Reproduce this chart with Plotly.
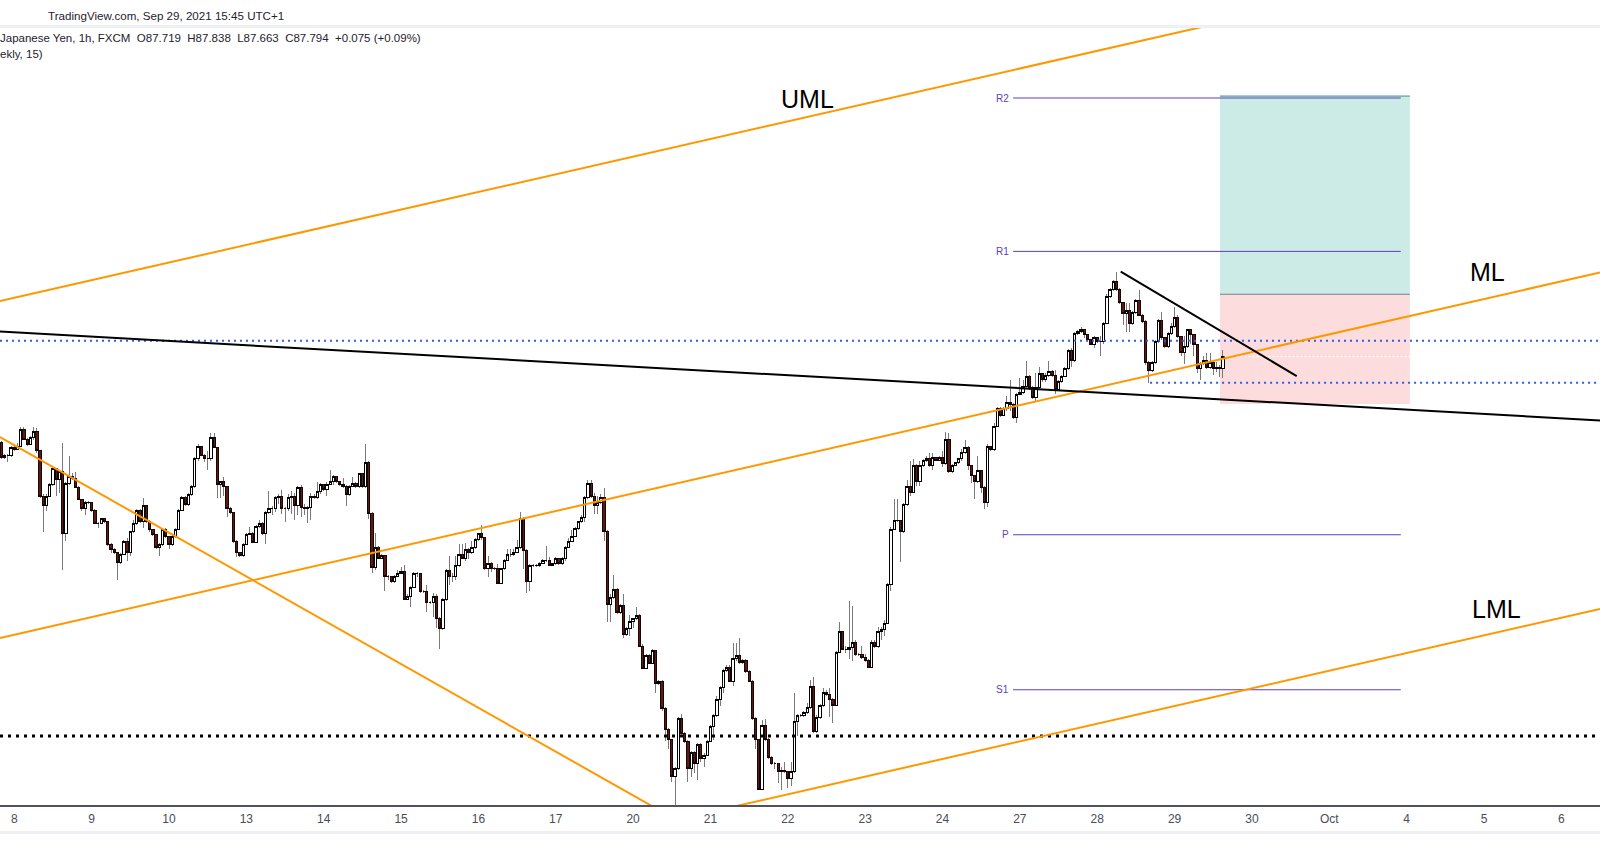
import plotly.graph_objects as go

# ---------------- data (hourly candles, index 0 = Sep 8 00:00, UTC+1) ----------------
hour_index = list(range(-4, 376))
first_open = 87.26

close = [
    # Sep 7 late / Sep 8 / Sep 9 / Sep 10 (part)
    87.17, 87.18, 87.18, 87.23, 87.22, 87.24, 87.34, 87.28, 87.25, 87.29, 87.33, 87.21,
    86.93, 86.87, 86.93, 87.00, 87.10, 87.03, 87.08, 86.70, 87.01, 87.05, 87.04, 86.98,
    86.91, 86.85, 86.89, 86.89, 86.84, 86.76, 86.76, 86.79, 86.77, 86.63, 86.60, 86.58,
    86.52, 86.57, 86.65, 86.58, 86.71, 86.76, 86.84, 86.77, 86.87, 86.77, 86.72, 86.69,
    86.61, 86.63, 86.72, 86.68, 86.63, 86.68, 86.72, 86.84, 86.92, 86.88, 86.94, 86.99,
    87.16, 87.24,
    # i = 58 .. 132
    87.18, 87.16, 87.16, 87.29, 87.23, 87.00, 87.02, 86.99, 86.85, 86.83, 86.65, 86.58,
    86.56, 86.63, 86.69, 86.70, 86.64, 86.74, 86.76, 86.70, 86.83, 86.85, 86.85, 86.92,
    86.93, 86.85, 86.85, 86.92, 86.93, 86.87, 86.98, 86.86, 86.85, 86.86, 86.93, 86.92,
    86.96, 87.00, 86.97, 87.00, 87.02, 87.05, 87.02, 87.00, 86.99, 86.94, 86.99, 87.01,
    86.99, 87.07, 86.99, 87.14, 86.82, 86.49, 86.61, 86.54, 86.56, 86.43, 86.43, 86.40,
    86.43, 86.45, 86.46, 86.29, 86.31, 86.36, 86.45, 86.45, 86.34, 86.34, 86.27, 86.27,
    86.31, 86.17, 86.11,
    # i = 133 .. 209
    86.29, 86.47, 86.43, 86.43, 86.50, 86.57, 86.54, 86.60, 86.58, 86.61, 86.66, 86.70,
    86.67, 86.48, 86.51, 86.48, 86.48, 86.39, 86.48, 86.53, 86.57, 86.57, 86.58, 86.61,
    86.79, 86.59, 86.40, 86.50, 86.50, 86.50, 86.51, 86.53, 86.53, 86.50, 86.51, 86.54,
    86.51, 86.54, 86.61, 86.65, 86.68, 86.73, 86.77, 86.80, 86.92, 87.01, 86.93, 86.87,
    86.89, 86.92, 86.71, 86.26, 86.30, 86.35, 86.21, 86.25, 86.07, 86.11, 86.15, 86.17,
    86.19, 86.00, 85.86, 85.94, 85.89, 85.97, 85.77, 85.78, 85.61, 85.48, 85.42, 85.19,
    85.24, 85.55, 85.46, 85.41, 85.24,
    # i = 210 .. 285
    85.34, 85.27, 85.39, 85.30, 85.32, 85.41, 85.50, 85.57, 85.67, 85.74, 85.85, 85.87,
    85.78, 85.92, 85.94, 85.90, 85.91, 85.84, 85.78, 85.55, 85.42, 85.11, 85.51, 85.42,
    85.31, 85.27, 85.27, 85.22, 85.23, 85.22, 85.18, 85.22, 85.53, 85.57, 85.57, 85.59,
    85.62, 85.75, 85.47, 85.56, 85.63, 85.71, 85.70, 85.67, 85.63, 85.96, 86.09, 85.98,
    85.98, 85.99, 86.02, 85.95, 85.95, 85.93, 85.91, 85.87, 86.02, 86.00, 86.09, 86.10,
    86.14, 86.38, 86.72, 86.78, 86.78, 86.71, 86.88, 86.99, 86.95, 87.12, 87.02, 87.12,
    87.15, 87.16, 87.12, 87.17,
    # i = 286 .. 375
    87.15, 87.17, 87.13, 87.28, 87.08, 87.12, 87.14, 87.16, 87.20, 87.23, 87.12, 87.06,
    87.02, 87.09, 86.98, 86.89, 87.24, 87.22, 87.36, 87.47, 87.43, 87.47, 87.51, 87.50,
    87.42, 87.56, 87.57, 87.61, 87.67, 87.60, 87.54, 87.60, 87.69, 87.65, 87.68, 87.70,
    87.68, 87.59, 87.64, 87.67, 87.72, 87.83, 87.77, 87.94, 87.95, 87.96, 87.93, 87.90,
    87.87, 87.91, 87.89, 87.89, 88.00, 88.17, 88.21, 88.26, 88.21, 88.13, 88.06, 88.08,
    88.00, 88.07, 88.14, 88.05, 88.01, 87.76, 87.71, 87.76, 87.89, 88.02, 87.91, 87.86,
    87.94, 87.98, 88.04, 87.92, 87.82, 87.86, 87.96, 87.93, 87.87, 87.72, 87.75, 87.77,
    87.73, 87.76, 87.72, 87.73, 87.719, 87.794,
]

high = [
    87.27, 87.19, 87.19, 87.24, 87.24, 87.26, 87.36, 87.36, 87.29, 87.30, 87.36, 87.35,
    87.21, 86.94, 86.94, 87.01, 87.10, 87.10, 87.08, 87.26, 87.02, 87.18, 87.07, 87.08,
    86.99, 86.91, 86.90, 86.90, 86.89, 86.85, 86.77, 86.79, 86.79, 86.77, 86.64, 86.61,
    86.58, 86.58, 86.66, 86.67, 86.71, 86.78, 86.85, 86.85, 86.92, 86.87, 86.78, 86.72,
    86.69, 86.64, 86.73, 86.73, 86.68, 86.69, 86.73, 86.85, 86.93, 86.93, 86.95, 87.00,
    87.17, 87.25,
    87.24, 87.19, 87.21, 87.32, 87.32, 87.23, 87.02, 87.05, 86.99, 86.86, 86.83, 86.66,
    86.58, 86.64, 86.70, 86.74, 86.71, 86.75, 86.78, 86.77, 86.84, 86.96, 86.87, 86.93,
    86.94, 86.97, 86.86, 86.94, 86.96, 86.95, 86.99, 87.00, 86.88, 86.87, 86.95, 86.94,
    87.02, 87.01, 87.00, 87.02, 87.09, 87.06, 87.05, 87.02, 87.04, 87.00, 87.00, 87.05,
    87.02, 87.07, 87.07, 87.25, 87.15, 86.83, 86.70, 86.62, 86.57, 86.56, 86.44, 86.43,
    86.44, 86.47, 86.49, 86.50, 86.32, 86.37, 86.46, 86.46, 86.45, 86.35, 86.38, 86.28,
    86.33, 86.32, 86.18,
    86.30, 86.48, 86.56, 86.45, 86.56, 86.63, 86.63, 86.64, 86.61, 86.65, 86.67, 86.70,
    86.75, 86.67, 86.56, 86.52, 86.49, 86.51, 86.48, 86.54, 86.60, 86.60, 86.60, 86.66,
    86.83, 86.80, 86.60, 86.51, 86.51, 86.51, 86.52, 86.54, 86.62, 86.55, 86.51, 86.55,
    86.54, 86.55, 86.62, 86.67, 86.72, 86.74, 86.77, 86.81, 86.93, 87.03, 87.03, 86.95,
    86.93, 86.94, 86.98, 86.72, 86.32, 86.44, 86.36, 86.26, 86.32, 86.12, 86.19, 86.17,
    86.24, 86.20, 86.01, 85.95, 85.95, 85.98, 85.97, 85.79, 85.79, 85.62, 85.49, 85.42,
    85.25, 85.56, 85.58, 85.47, 85.42,
    85.35, 85.35, 85.40, 85.40, 85.34, 85.42, 85.51, 85.58, 85.69, 85.75, 85.86, 85.88,
    85.88, 86.02, 86.02, 86.05, 85.92, 85.92, 85.85, 85.79, 85.56, 85.42, 85.54, 85.55,
    85.43, 85.32, 85.28, 85.27, 85.25, 85.28, 85.22, 85.28, 85.71, 85.58, 85.58, 85.60,
    85.65, 85.79, 85.81, 85.57, 85.64, 85.74, 85.73, 85.74, 85.68, 85.97, 86.15, 86.09,
    86.00, 86.28, 86.25, 86.04, 85.96, 86.00, 85.95, 85.92, 86.04, 86.04, 86.12, 86.12,
    86.16, 86.39, 86.74, 86.91, 86.91, 86.78, 86.89, 87.03, 87.15, 87.16, 87.13, 87.15,
    87.16, 87.18, 87.20, 87.20,
    87.17, 87.18, 87.21, 87.33, 87.32, 87.13, 87.14, 87.16, 87.22, 87.28, 87.24, 87.12,
    87.06, 87.18, 87.09, 86.99, 87.25, 87.24, 87.38, 87.48, 87.48, 87.48, 87.55, 87.65,
    87.51, 87.57, 87.66, 87.65, 87.77, 87.68, 87.61, 87.69, 87.73, 87.69, 87.69, 87.77,
    87.71, 87.71, 87.65, 87.68, 87.73, 87.84, 87.85, 87.95, 87.96, 87.98, 87.96, 87.93,
    87.90, 87.92, 87.91, 87.92, 88.01, 88.18, 88.22, 88.27, 88.32, 88.22, 88.13, 88.13,
    88.13, 88.08, 88.15, 88.21, 88.06, 88.02, 87.77, 87.77, 87.90, 88.03, 88.07, 87.91,
    87.95, 88.00, 88.10, 88.05, 87.92, 87.92, 87.96, 87.96, 87.93, 87.87, 87.76, 87.80,
    87.82, 87.82, 87.76, 87.76, 87.74, 87.838,
]

low = [
    87.16, 87.16, 87.14, 87.17, 87.21, 87.22, 87.24, 87.28, 87.24, 87.25, 87.28, 87.20,
    86.92, 86.71, 86.84, 86.93, 86.99, 86.93, 86.95, 86.47, 86.65, 87.00, 87.03, 86.98,
    86.91, 86.84, 86.81, 86.88, 86.83, 86.76, 86.73, 86.76, 86.76, 86.62, 86.58, 86.57,
    86.41, 86.51, 86.57, 86.53, 86.56, 86.70, 86.75, 86.76, 86.73, 86.76, 86.71, 86.68,
    86.60, 86.56, 86.62, 86.67, 86.60, 86.62, 86.67, 86.72, 86.84, 86.87, 86.87, 86.93,
    86.98, 87.15,
    87.18, 87.14, 87.09, 87.15, 87.23, 86.92, 86.92, 86.93, 86.80, 86.82, 86.64, 86.55,
    86.55, 86.55, 86.63, 86.69, 86.64, 86.64, 86.73, 86.69, 86.63, 86.82, 86.81, 86.83,
    86.88, 86.82, 86.77, 86.84, 86.82, 86.78, 86.81, 86.80, 86.81, 86.76, 86.78, 86.91,
    86.91, 86.94, 86.96, 86.93, 87.00, 87.00, 87.01, 86.99, 86.98, 86.87, 86.93, 86.99,
    86.98, 86.98, 86.98, 86.98, 86.79, 86.45, 86.47, 86.54, 86.54, 86.34, 86.41, 86.39,
    86.39, 86.43, 86.45, 86.29, 86.29, 86.24, 86.36, 86.43, 86.33, 86.33, 86.21, 86.26,
    86.18, 86.11, 85.98,
    86.10, 86.28, 86.38, 86.40, 86.41, 86.49, 86.54, 86.53, 86.54, 86.57, 86.60, 86.65,
    86.66, 86.47, 86.43, 86.46, 86.47, 86.39, 86.39, 86.47, 86.53, 86.55, 86.56, 86.58,
    86.60, 86.48, 86.33, 86.34, 86.49, 86.49, 86.49, 86.51, 86.52, 86.50, 86.50, 86.50,
    86.50, 86.50, 86.53, 86.61, 86.65, 86.68, 86.72, 86.76, 86.77, 86.91, 86.92, 86.82,
    86.82, 86.88, 86.65, 86.15, 86.15, 86.29, 86.20, 86.20, 86.05, 86.06, 86.06, 86.11,
    86.16, 86.00, 85.86, 85.86, 85.89, 85.89, 85.71, 85.76, 85.60, 85.41, 85.36, 85.16,
    85.01, 85.23, 85.44, 85.40, 85.16,
    85.19, 85.21, 85.17, 85.28, 85.25, 85.32, 85.41, 85.42, 85.56, 85.63, 85.71, 85.84,
    85.78, 85.75, 85.91, 85.89, 85.89, 85.83, 85.78, 85.54, 85.36, 85.11, 85.11, 85.41,
    85.30, 85.26, 85.24, 85.15, 85.11, 85.21, 85.12, 85.13, 85.21, 85.44, 85.56, 85.56,
    85.58, 85.61, 85.46, 85.46, 85.55, 85.62, 85.69, 85.56, 85.52, 85.63, 85.96, 85.98,
    85.96, 85.92, 85.91, 85.94, 85.94, 85.92, 85.90, 85.87, 85.87, 85.99, 85.99, 86.04,
    86.06, 86.14, 86.34, 86.72, 86.77, 86.52, 86.70, 86.87, 86.93, 86.95, 86.99, 86.99,
    87.11, 87.14, 87.11, 87.09,
    87.15, 87.15, 87.11, 87.12, 87.07, 87.07, 87.12, 87.13, 87.15, 87.19, 87.09, 87.01,
    86.91, 87.01, 86.95, 86.85, 86.86, 87.21, 87.21, 87.36, 87.42, 87.43, 87.46, 87.46,
    87.41, 87.38, 87.56, 87.56, 87.60, 87.59, 87.53, 87.52, 87.59, 87.64, 87.64, 87.67,
    87.67, 87.56, 87.58, 87.63, 87.67, 87.71, 87.73, 87.76, 87.93, 87.94, 87.91, 87.89,
    87.87, 87.85, 87.88, 87.80, 87.87, 88.00, 88.16, 88.20, 88.20, 88.12, 87.99, 87.95,
    87.95, 87.99, 88.06, 88.05, 88.00, 87.74, 87.63, 87.70, 87.75, 87.88, 87.90, 87.85,
    87.85, 87.93, 87.97, 87.91, 87.80, 87.75, 87.85, 87.87, 87.80, 87.69, 87.65, 87.74,
    87.72, 87.72, 87.68, 87.70, 87.67, 87.663,
]

# x-axis day labels (one trading day = 24 hourly slots)
day_labels = ["8", "9", "10", "13", "14", "15", "16", "17", "20", "21", "22",
              "23", "24", "27", "28", "29", "30", "Oct", "4", "5", "6"]
day_ticks = [24 * k for k in range(len(day_labels))]

# drawn tools: (hour index, price) endpoints
uml_line = [(-4.44, 88.139), (398.9, 89.977)]
ml_line = [(-4.44, 86.050), (492.0, 88.316)]
lml_line = [(212.8, 84.957), (492.0, 86.230)]
down_orange_line = [(-4.44, 87.296), (200.3, 84.980)]
long_black_line = [(-4.44, 87.950), (492.0, 87.399)]
short_black_line = [(343.3, 88.321), (397.9, 87.674)]

blue_level_upper = 87.893
blue_level_lower = 87.633
blue_lower_start = 352.4
black_dotted_level = 85.442

pivot_names = ["R2", "R1", "P", "S1"]
pivot_levels = [89.398, 88.447, 86.690, 85.729]
pivot_span = (309.9, 430.2)

box_span = (374.1, 433.0)
target_price = 89.410
entry_price = 88.181
stop_price = 87.501

x_range = [-4.44, 492.0]
y_range = [85.0145, 89.832]

# ---------------- figure ----------------
opens = [first_open] + close[:-1]
body_hi = [max(o, c) for o, c in zip(opens, close)]
body_lo = [min(o, c) for o, c in zip(opens, close)]

UP_FILL = "#ffffff"
DOWN_FILL = "#5a1b15"
WICK = "#7a7a7a"

fig = go.Figure()
fig.add_trace(go.Candlestick(
    x=hour_index, open=opens, high=high, low=low, close=close,
    increasing=dict(line=dict(color=WICK, width=1), fillcolor=UP_FILL),
    decreasing=dict(line=dict(color=WICK, width=1), fillcolor=DOWN_FILL),
    whiskerwidth=0, hoverinfo="skip", showlegend=False,
))
fig.add_trace(go.Candlestick(
    x=hour_index, open=opens, high=body_hi, low=body_lo, close=close,
    increasing=dict(line=dict(color="#000000", width=1), fillcolor=UP_FILL),
    decreasing=dict(line=dict(color="#1a0505", width=1), fillcolor=DOWN_FILL),
    whiskerwidth=0, hoverinfo="skip", showlegend=False,
))

shapes = []
# long-position box
shapes.append(dict(type="rect", xref="x", yref="y", layer="below",
                   x0=box_span[0], x1=box_span[1], y0=entry_price, y1=target_price,
                   fillcolor="#cdebe6", line=dict(width=0)))
shapes.append(dict(type="rect", xref="x", yref="y", layer="below",
                   x0=box_span[0], x1=box_span[1], y0=stop_price, y1=entry_price,
                   fillcolor="#fcdcdc", line=dict(width=0)))
shapes.append(dict(type="line", xref="x", yref="y", x0=box_span[0], x1=box_span[1],
                   y0=entry_price, y1=entry_price, line=dict(color="#7b7e86", width=1)))
shapes.append(dict(type="line", xref="x", yref="y", x0=box_span[0], x1=box_span[1],
                   y0=target_price, y1=target_price, line=dict(color="#3f8f80", width=1)))

# pivot levels
for lvl in pivot_levels:
    shapes.append(dict(type="line", xref="x", yref="y", x0=pivot_span[0], x1=pivot_span[1],
                       y0=lvl, y1=lvl, line=dict(color="#5b3fc2", width=1)))

# horizontal dotted levels
shapes.append(dict(type="line", xref="x", yref="y", x0=x_range[0], x1=x_range[1],
                   y0=blue_level_upper, y1=blue_level_upper,
                   line=dict(color="#2f5bf0", width=2, dash="2px,4px")))
shapes.append(dict(type="line", xref="x", yref="y", x0=blue_lower_start, x1=x_range[1],
                   y0=blue_level_lower, y1=blue_level_lower,
                   line=dict(color="#2f5bf0", width=2, dash="2px,4px")))
shapes.append(dict(type="line", xref="x", yref="y", x0=x_range[0], x1=x_range[1],
                   y0=black_dotted_level, y1=black_dotted_level,
                   line=dict(color="#000000", width=3, dash="3px,5px")))
shapes.append(dict(type="line", xref="x", yref="y", x0=375.5, x1=x_range[1],
                   y0=close[-1], y1=close[-1],
                   line=dict(color="#ffffff", width=1, dash="2px,2px")))

# trend lines / pitchfork
for seg, col, w in [
    (uml_line, "#ff9800", 2), (ml_line, "#ff9800", 2), (lml_line, "#ff9800", 2),
    (down_orange_line, "#ff9800", 2), (long_black_line, "#000000", 2),
    (short_black_line, "#000000", 2),
]:
    (xa, ya), (xb, yb) = seg
    shapes.append(dict(type="line", xref="x", yref="y", x0=xa, y0=ya, x1=xb, y1=yb,
                       line=dict(color=col, width=w)))

# frame bands (TradingView header separator and bottom band)
def py(px):
    return (805 - px) / 777.0

shapes.append(dict(type="rect", xref="paper", yref="paper", x0=0, x1=1,
                   y0=py(28), y1=py(25), fillcolor="#eef0f4", line=dict(width=0)))
shapes.append(dict(type="rect", xref="paper", yref="paper", x0=0, x1=1,
                   y0=py(834), y1=py(831), fillcolor="#eef0f4", line=dict(width=0)))

annotations = []
for name, lvl in zip(pivot_names, pivot_levels):
    annotations.append(dict(x=309.4, y=lvl, xref="x", yref="y", text=name,
                            showarrow=False, xanchor="right", yanchor="middle",
                            font=dict(family="Liberation Sans", size=10, color="#5b3fc2")))
for txt, xv, yv in [("UML", 246.2, 89.394), ("ML", 457.0, 88.319), ("LML", 459.9, 86.227)]:
    annotations.append(dict(x=xv, y=yv, xref="x", yref="y", text=txt, showarrow=False,
                            xanchor="center", yanchor="middle",
                            font=dict(family="Liberation Sans", size=25, color="#000000")))

NB = "\u00a0"
legend_line = ("Japanese Yen, 1h, FXCM" + NB * 2 + "O87.719" + NB * 2 + "H87.838" + NB * 2 +
               "L87.663" + NB * 2 + "C87.794" + NB * 2 + "+0.075 (+0.09%)")
annotations.append(dict(x=46 / 1600, y=py(15), xref="paper", yref="paper",
                        text="TradingView.com, Sep 29, 2021 15:45 UTC+1", showarrow=False,
                        xanchor="left", yanchor="middle",
                        font=dict(family="Liberation Sans", size=11.6, color="#1e222d")))
annotations.append(dict(x=-0.001, y=py(38.5), xref="paper", yref="paper", text=legend_line,
                        showarrow=False, xanchor="left", yanchor="middle",
                        font=dict(family="Liberation Sans", size=11.5, color="#1e222d")))
annotations.append(dict(x=-0.001, y=py(54), xref="paper", yref="paper", text="ekly, 15)",
                        showarrow=False, xanchor="left", yanchor="middle",
                        font=dict(family="Liberation Sans", size=11.5, color="#1e222d")))

fig.update_layout(
    width=1600, height=868,
    margin=dict(l=0, r=0, t=28, b=63, pad=0),
    paper_bgcolor="#ffffff", plot_bgcolor="#ffffff",
    showlegend=False, boxgap=0.3, boxgroupgap=0,
    shapes=shapes, annotations=annotations,
    xaxis=dict(range=x_range, rangeslider=dict(visible=False), showgrid=False,
               zeroline=False, showline=True, linecolor="#50535e", linewidth=2,
               tickmode="array", tickvals=day_ticks, ticktext=day_labels, ticks="",
               ticklabelstandoff=2,
               tickfont=dict(family="Liberation Sans", size=12, color="#4a4d57"),
               fixedrange=True),
    yaxis=dict(range=y_range, visible=False, showgrid=False, zeroline=False,
               fixedrange=True),
)

post = (
    "document.body.style.margin='0px';document.body.style.overflow='hidden';"
    "document.querySelectorAll('path.box').forEach(function(p){p.style.shapeRendering='crispEdges';});"
)
fig.write_html("out.html", config={"displayModeBar": False}, post_script=post)
